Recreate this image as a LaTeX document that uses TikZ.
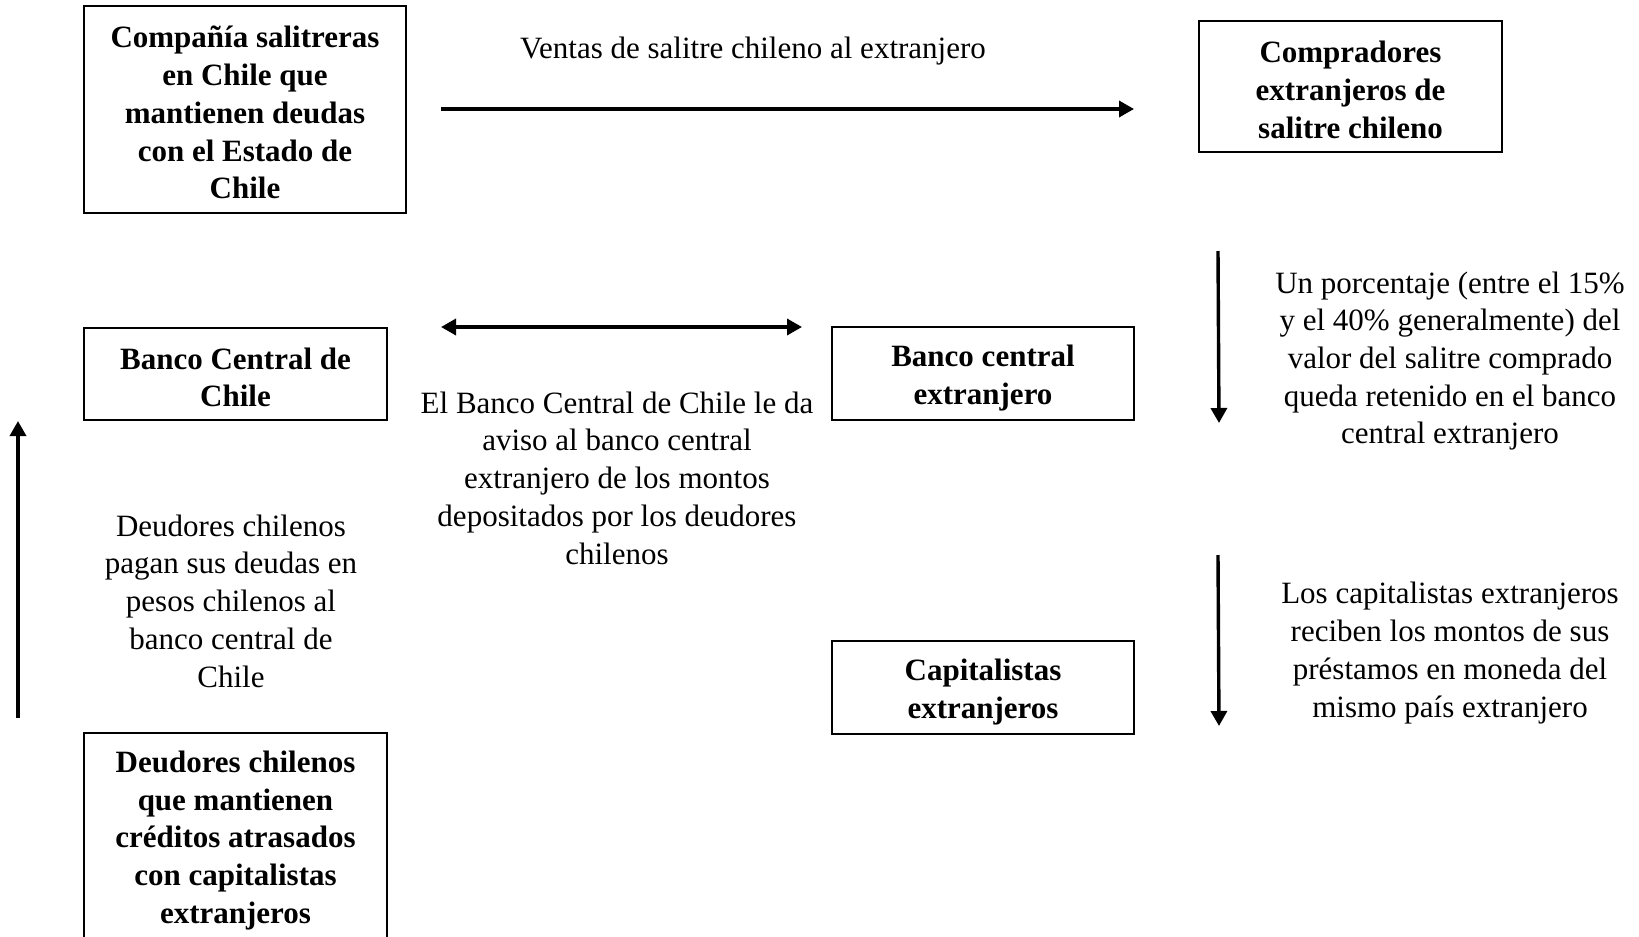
\documentclass[tikz,border=0pt]{standalone}
\usepackage{fontspec}
\setmainfont{Liberation Serif}
\usetikzlibrary{arrows.meta}
\newcommand\dnstrut{\rule{0pt}{28pt}}
\newcommand\dnstrutb{\rule{0pt}{30pt}}
\begin{document}
\begin{tikzpicture}[x=1pt,y=-1pt,
  box/.style={draw,line width=2pt,align=center,inner sep=0pt,font=\fontsize{31}{37.7}\selectfont\bfseries},
  txt/.style={align=center,inner sep=0pt,font=\fontsize{31}{37.7}\selectfont},
  arr/.style={line width=3.4pt,-{Triangle[length=15pt,width=16pt]}},
  darr/.style={line width=3.4pt,{Triangle[length=15pt,width=16pt]}-{Triangle[length=15pt,width=16pt]}}]
\useasboundingbox (0,0) rectangle (1639,937);
\node[box,minimum width=322pt,minimum height=207pt] (c1) at (245,109.5) {\dnstrut Compañía salitreras\\en Chile que\\mantienen deudas\\con el Estado de\\Chile};
\node[box,minimum width=303pt,minimum height=131pt] (c2) at (1350.5,86.5) {\dnstrut Compradores\\extranjeros de\\salitre chileno};
\node[box,minimum width=303pt,minimum height=92pt] (c3) at (235.5,374) {\dnstrut Banco Central de\\Chile};
\node[box,minimum width=302pt,minimum height=93pt] (c4) at (983,373.5) {\dnstrutb Banco central\\extranjero};
\node[box,minimum width=302pt,minimum height=93pt] (c5) at (983,687.5) {\dnstrutb Capitalistas\\extranjeros};
\node[box,minimum width=303pt,minimum height=208pt] (c6) at (235.5,837) {\dnstrut Deudores chilenos\\que mantienen\\créditos atrasados\\con capitalistas\\extranjeros};
\node[txt] (t1) at (753,51) {Ventas de salitre chileno al extranjero};
\node[txt] (t2) at (617,478) {El Banco Central de Chile le da\\aviso al banco central\\extranjero de los montos\\depositados por los deudores\\chilenos};
\node[txt] (t3) at (1450,361) {Un porcentaje (entre el 15\%\\y el 40\% generalmente) del\\valor del salitre comprado\\queda retenido en el banco\\central extranjero};
\node[txt] (t4) at (1450,653) {Los capitalistas extranjeros\\reciben los montos de sus\\préstamos en moneda del\\mismo país extranjero};
\node[txt] (t5) at (231,601) {Deudores chilenos\\pagan sus deudas en\\pesos chilenos al\\banco central de\\Chile};
\coordinate (a1s) at (441,109);
\coordinate (a1e) at (1134,109);
\coordinate (a2s) at (441,327);
\coordinate (a2e) at (802,327);
\coordinate (a3s) at (1218,251);
\coordinate (a3e) at (1219,423);
\coordinate (a4s) at (1218,555);
\coordinate (a4e) at (1219,726);
\coordinate (a5s) at (18,718);
\coordinate (a5e) at (18,421);
\draw[arr] (a1s) -- (a1e);
\draw[darr] (a2s) -- (a2e);
\draw[arr] (a3s) -- (a3e);
\draw[arr] (a4s) -- (a4e);
\draw[arr] (a5s) -- (a5e);
\end{tikzpicture}
\end{document}
